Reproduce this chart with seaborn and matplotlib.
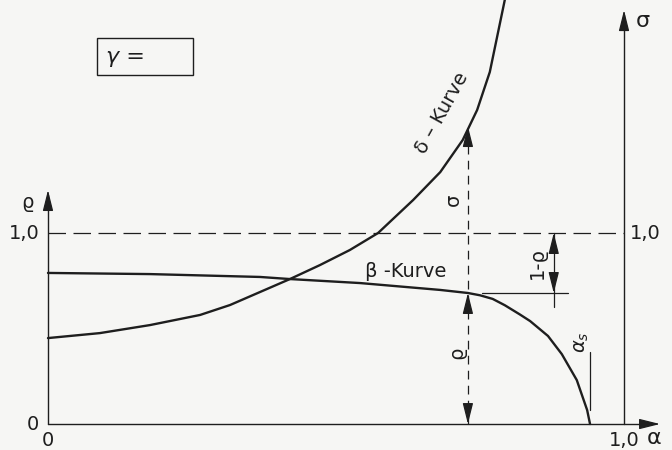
import numpy as np
import pandas as pd
import seaborn as sns
import matplotlib.pyplot as plt

# curve values (alpha, value)
alpha_delta = [0.0, 0.090, 0.177, 0.264, 0.316, 0.368, 0.420, 0.472, 0.524, 0.573,
               0.634, 0.681, 0.720, 0.745, 0.767, 0.793]
delta_vals = [0.450, 0.476, 0.518, 0.571, 0.623, 0.691, 0.759, 0.832, 0.911, 1.0,
              1.173, 1.319, 1.487, 1.644, 1.843, 2.220]

alpha_beta = [0.0, 0.177, 0.368, 0.420, 0.542, 0.681, 0.729, 0.750, 0.772, 0.793, 0.819,
              0.837, 0.868, 0.892, 0.918, 0.936, 0.941]
beta_vals = [0.791, 0.785, 0.770, 0.759, 0.738, 0.702, 0.686, 0.674, 0.655, 0.622, 0.574,
             0.539, 0.461, 0.366, 0.230, 0.073, 0.0]

alpha_mark = 0.729      # dashed construction line
rho_mark = 0.686        # beta at alpha_mark
sigma_mark = 1.56       # delta at alpha_mark
alpha_s = 0.941

sns.set_style("white")
plt.rcParams['font.family'] = ['DejaVu Sans']

ink = "#1e1e1e"
paper = "#f6f6f4"

fig = plt.figure(figsize=(6.72, 4.5), dpi=100)
fig.patch.set_facecolor(paper)
ax = fig.add_axes([0, 0, 1, 1])
ax.set_facecolor(paper)
ax.set_xlim(-0.0833, 1.0833)
ax.set_ylim(-0.136, 2.220)
ax.axis("off")

df_d = pd.DataFrame({"alpha": alpha_delta, "val": delta_vals})
df_b = pd.DataFrame({"alpha": alpha_beta, "val": beta_vals})
sns.lineplot(data=df_d, x="alpha", y="val", sort=False, estimator=None, color=ink, lw=1.7, ax=ax)
sns.lineplot(data=df_b, x="alpha", y="val", sort=False, estimator=None, color=ink, lw=1.7, ax=ax)

head = dict(arrowstyle="-|>,head_length=0.8,head_width=0.2", color=ink, lw=0.9, mutation_scale=16, shrinkA=0, shrinkB=0)

def arrow_head(x, y, dx, dy):
    ax.annotate("", xy=(x, y), xytext=(x + dx, y + dy), arrowprops=head)

# axes
ax.plot([0, 1.04], [0, 0], color=ink, lw=1.0)
ax.plot([0, 0], [0, 1.20], color=ink, lw=1.0)
ax.plot([1, 1], [0, 2.14], color=ink, lw=1.0)
arrow_head(1.0625, 0, -0.03, 0)
arrow_head(0, 1.225, 0, -0.06)
arrow_head(1.0, 2.167, 0, -0.06)

# rho = 1 dashed line
ax.plot([0, 1], [1, 1], color=ink, lw=0.9, ls=(0, (14, 6)))

# construction line at alpha_mark
ax.plot([alpha_mark, alpha_mark], [0, sigma_mark - 0.05], color=ink, lw=0.9, ls=(0, (7, 5)))
arrow_head(alpha_mark, sigma_mark, 0, -0.06)
arrow_head(alpha_mark, rho_mark, 0, -0.06)
arrow_head(alpha_mark, 0, 0, 0.06)

# 1 - rho dimension
ax.plot([0.878, 0.878], [0.613, 1.0], color=ink, lw=0.9)
ax.plot([0.753, 0.903], [rho_mark, rho_mark], color=ink, lw=0.9)
arrow_head(0.878, 1.0, 0, -0.06)
arrow_head(0.878, rho_mark, 0, 0.06)

# alpha_s marker
ax.plot([alpha_s, alpha_s], [0.073, 0.377], color=ink, lw=0.9)

fs = 14
ax.text(-0.035, 1.16, "ϱ", fontsize=fs, color=ink, ha="center", va="center")
ax.text(-0.014, 1.0, "1,0", fontsize=fs, color=ink, ha="right", va="center")
ax.text(-0.026, 0.0, "0", fontsize=fs, color=ink, ha="center", va="center")
ax.text(0.0, -0.085, "0", fontsize=fs, color=ink, ha="center", va="center")
ax.text(1.0, -0.085, "1,0", fontsize=fs, color=ink, ha="center", va="center")
ax.text(1.053, -0.075, "α", fontsize=fs + 2, color=ink, ha="center", va="center")
ax.text(1.032, 2.11, "σ", fontsize=fs + 2, color=ink, ha="center", va="center")
ax.text(1.037, 1.0, "1,0", fontsize=fs, color=ink, ha="center", va="center")

ax.text(0.621, 0.80, "β -Kurve", fontsize=fs, color=ink, ha="center", va="center")
ax.text(0.684, 1.63, "δ – Kurve", fontsize=fs, color=ink, ha="center", va="center", rotation=61)
ax.text(0.703, 1.173, "σ", fontsize=fs, color=ink, ha="center", va="center", rotation=90)
ax.text(0.710, 0.372, "ϱ", fontsize=fs, color=ink, ha="center", va="center", rotation=90)
ax.text(0.849, 0.843, "1-ϱ", fontsize=fs, color=ink, ha="center", va="center", rotation=90)
ax.text(0.927, 0.43, r"$\alpha_s$", fontsize=fs, color=ink, ha="center", va="center", rotation=90)

# gamma box
ax.add_patch(plt.Rectangle((0.085, 1.827), 0.167, 0.194, fill=False, ec=ink, lw=1.0))
ax.text(0.1, 1.924, "γ =", fontsize=fs + 2, color=ink, ha="left", va="center", style="italic")

fig.savefig("out.png", dpi=100, facecolor=paper)
